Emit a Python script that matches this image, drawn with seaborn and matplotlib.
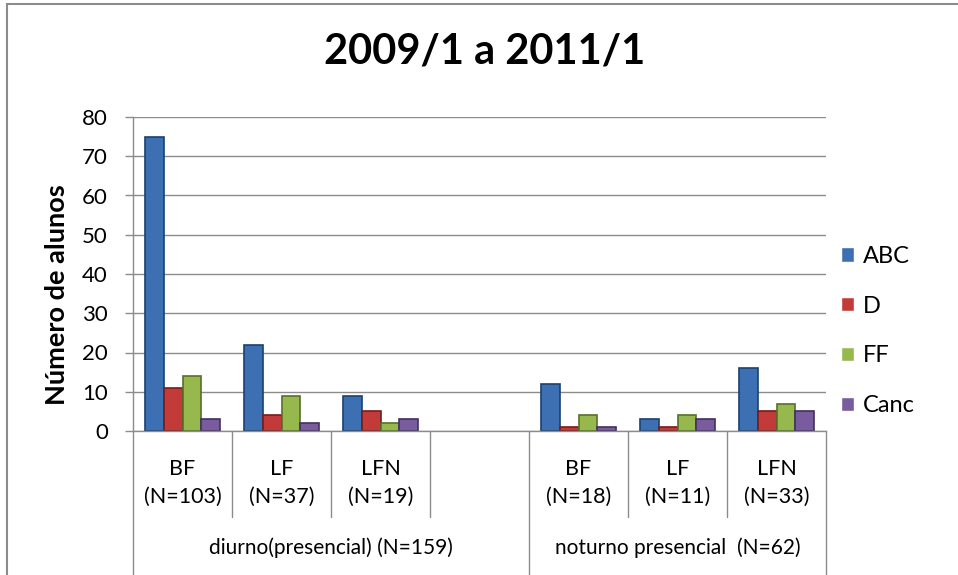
import pandas as pd
import matplotlib.pyplot as plt
import matplotlib.transforms as mtransforms
import seaborn as sns

# data
cat_keys = ["d_BF", "d_LF", "d_LFN", "gap", "n_BF", "n_LF", "n_LFN"]
cat_labels = ["BF\n(N=103)", "LF\n(N=37)", "LFN\n(N=19)", "", "BF\n(N=18)", "LF\n(N=11)", "LFN\n(N=33)"]
groups = ["diurno(presencial) (N=159)", "noturno presencial  (N=62)"]
group_span = [(0, 3), (4, 6)]   # first and last category index of each group
series = ["ABC", "D", "FF", "Canc"]
abc = [75, 22, 9, None, 12, 3, 16]
d = [11, 4, 5, None, 1, 1, 5]
ff = [14, 9, 2, None, 4, 4, 7]
canc = [3, 2, 3, None, 1, 3, 5]
colors = ["#3C70B3", "#C23B38", "#96B84C", "#795C9E"]
edges = ["#1B416F", "#731E1D", "#56702A", "#43305E"]

rows = []
for s, vals in zip(series, [abc, d, ff, canc]):
    for k, v in zip(cat_keys, vals):
        if v is not None:
            rows.append({"cat": k, "serie": s, "value": v})
df = pd.DataFrame(rows)

sns.set_theme(style="white")
plt.rcParams['font.family'] = ['Lato', 'DejaVu Sans']
plt.rcParams['text.color'] = 'black'
plt.rcParams['axes.labelcolor'] = 'black'

fig = plt.figure(figsize=(9.58, 5.75), dpi=100)
ax = fig.add_axes([133 / 958, 1 - 431 / 575, 693 / 958, 314 / 575])

sns.barplot(data=df, x="cat", y="value", hue="serie", order=cat_keys, hue_order=series,
            palette=colors, width=0.75, ax=ax, saturation=1, legend=True)

for i, cont in enumerate(ax.containers):
    for p in cont:
        p.set_edgecolor(edges[i])
        p.set_linewidth(1.2)

ax.set_xlim(-0.5, len(cat_keys) - 0.5)
ax.set_ylim(0, 80)
ax.set_yticks(range(0, 81, 10))
ax.yaxis.grid(True, color="#8c8c8c", linewidth=1.0)
ax.set_axisbelow(True)
ax.tick_params(axis="y", left=True, length=6, width=1, color="#8c8c8c",
               labelcolor="black", labelsize=16, pad=12)
ax.tick_params(axis="x", bottom=False, labelbottom=False)
for side in ["top", "right"]:
    ax.spines[side].set_visible(False)
for side in ["left", "bottom"]:
    ax.spines[side].set_color("#8c8c8c")
    ax.spines[side].set_linewidth(1.0)
ax.set_xlabel("")
ax.set_ylabel("Número de alunos", fontsize=19.5, fontweight="bold")
ax.yaxis.set_label_coords(-0.093, 0.433)

# multi-level category axis below the plot
trans = mtransforms.blended_transform_factory(ax.transData, ax.transAxes)
for i, lab in enumerate(cat_labels):
    if lab:
        ax.text(i, -0.165, lab, transform=trans, ha="center", va="center",
                fontsize=15.5, linespacing=1.45)
group_edges = set()
for a, b in group_span:
    group_edges.add(a - 0.5)
    group_edges.add(b + 0.5)
for j in range(len(cat_keys) + 1):
    x = j - 0.5
    y_low = -0.46 if x in group_edges else -0.274
    ax.plot([x, x], [0, y_low], transform=trans, color="#8c8c8c", lw=1.0, clip_on=False)
for (a, b), g in zip(group_span, groups):
    ax.text((a + b) / 2, -0.373, g, transform=trans, ha="center", va="center", fontsize=15)

# legend
handles, labels = ax.get_legend_handles_labels()
ax.legend(handles, labels, loc="center left", bbox_to_anchor=(820 / 958, 1 - 331 / 575),
          bbox_transform=fig.transFigure, frameon=False, fontsize=17,
          handlelength=0.55, handleheight=0.55, handletextpad=0.35, labelspacing=1.22)

fig.suptitle("2009/1 a 2011/1", x=485 / 958, y=1 - 52 / 575, va="center",
             fontsize=30, fontweight="bold")

# chart border (only top and left visible)
fig.add_artist(plt.Line2D([7 / 958, 7 / 958], [0, 1 - 4 / 575], color="#8c8c8c", lw=1.5))
fig.add_artist(plt.Line2D([7 / 958, 1], [1 - 4 / 575, 1 - 4 / 575], color="#8c8c8c", lw=1.5))

fig.savefig("out.png", dpi=100)
